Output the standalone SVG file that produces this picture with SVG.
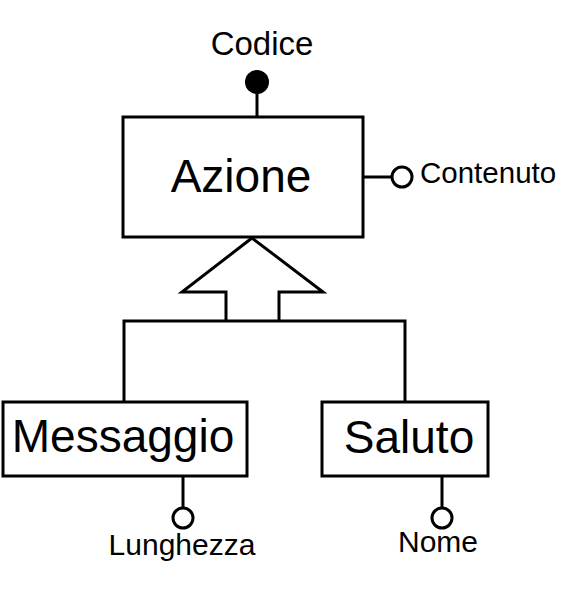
<svg xmlns="http://www.w3.org/2000/svg" width="576" height="592" viewBox="0 0 576 592">
<style>
.box{fill:#fff;stroke:#000;stroke-width:3}
.ln{fill:none;stroke:#000;stroke-width:3}
.big{font-family:"Liberation Sans",Arial,sans-serif;font-size:46px;fill:#000;text-anchor:middle}
.sm{font-family:"Liberation Sans",Arial,sans-serif;font-size:30px;fill:#000}
.attr{fill:#fff;stroke:#000;stroke-width:3}
</style>
<rect width="576" height="592" fill="#fff"/>
<g id="connectors">
<path d="M226,321 V292 H182 L252,238 L323,292 H279 V321" fill="#fff" stroke="#000" stroke-width="3"/>
<path class="ln" d="M124,402 V321 H405 V402"/>
<line class="ln" x1="257" y1="117" x2="257" y2="90"/>
<line class="ln" x1="363" y1="177" x2="392" y2="177"/>
<line class="ln" x1="183" y1="476" x2="183" y2="508"/>
<line class="ln" x1="442" y1="476" x2="442" y2="508"/>
</g>
<g id="Azione">
<rect class="box" x="123" y="117" width="240" height="120"/>
<text class="big" x="241" y="192">Azione</text>
</g>
<g id="Messaggio">
<rect class="box" x="3" y="402" width="244" height="74"/>
<text class="big" x="123" y="452">Messaggio</text>
</g>
<g id="Saluto">
<rect class="box" x="322" y="402" width="166" height="74"/>
<text class="big" x="409" y="453">Saluto</text>
</g>
<g id="Codice">
<circle cx="257" cy="82" r="12" fill="#000"/>
<text class="sm" x="262" y="55" text-anchor="middle" style="font-size:33px">Codice</text>
</g>
<g id="Contenuto">
<circle class="attr" cx="402" cy="177" r="10"/>
<text class="sm" x="420" y="183" style="font-size:29.5px">Contenuto</text>
</g>
<g id="Lunghezza">
<circle class="attr" cx="183" cy="518" r="10"/>
<text class="sm" x="182" y="555" text-anchor="middle">Lunghezza</text>
</g>
<g id="Nome">
<circle class="attr" cx="442" cy="518" r="10"/>
<text class="sm" x="438" y="552" text-anchor="middle">Nome</text>
</g>
</svg>
